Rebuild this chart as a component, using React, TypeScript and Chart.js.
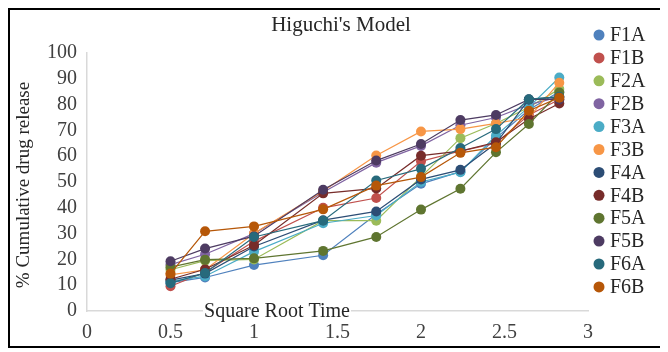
import React, { useEffect, useRef } from "react";
import { Chart, registerables } from "chart.js";

Chart.register(...registerables);

const sqrtTime = [0.5, 0.707, 1, 1.414, 1.732, 2, 2.236, 2.449, 2.646, 2.828];

const seriesNames = ["F1A", "F1B", "F2A", "F2B", "F3A", "F3B", "F4A", "F4B", "F5A", "F5B", "F6A", "F6B"];
const seriesColors = [
  "#4F81BD", "#C0504D", "#9BBB59", "#8064A2", "#4BACC6", "#F79646",
  "#2C4D75", "#772C2A", "#5F7530", "#4D3B62", "#276A7C", "#B65708",
];

const F1A = [11, 13, 17.8, 21.6, 37.5, 49.3, 54, 67, 78, 85];
const F1B = [9.6, 15, 27, 40, 43.8, 58, 62, 65, 76, 82];
const F2A = [16, 19.5, 20, 35, 35, 52, 67, 72.7, 79, 86];
const F2B = [18, 22, 30, 46, 57.5, 64, 72, 75, 80, 83];
const F3A = [11.5, 13.5, 23, 34, 37, 50, 53.8, 68, 79, 90.5];
const F3B = [14, 16, 30, 46.5, 60.3, 69.6, 70.5, 72.7, 75, 88.5];
const F4A = [12, 14.5, 25, 35.2, 38.6, 51, 54.7, 65, 82, 83];
const F4B = [12.3, 16.2, 25.5, 45.6, 47.5, 60.2, 62, 65.4, 74.4, 80.4];
const F5A = [17, 19.9, 20.4, 23.3, 28.7, 39.3, 47.4, 61.5, 72.5, 84.7];
const F5B = [19.3, 24.2, 29, 47, 58.3, 64.7, 74, 76, 82, 82];
const F6A = [10.8, 14.7, 28.7, 35, 50.6, 55.1, 63.2, 70.5, 82.1, 83];
const F6B = [14.5, 30.9, 32.8, 39.4, 48.6, 51.9, 61.3, 63.5, 77.6, 82.7];

const seriesValues = [F1A, F1B, F2A, F2B, F3A, F3B, F4A, F4B, F5A, F5B, F6A, F6B];

const chartTitle = "Higuchi's Model";
const xTitle = "Square Root Time";
const yTitle = "% Cumulative drug release";

const FONT = "'Liberation Serif', 'Times New Roman', serif";

const overlay = {
  id: "overlay",
  afterDraw(chart: any) {
    const ctx = chart.ctx;
    const area = chart.chartArea;
    ctx.save();
    // title
    ctx.fillStyle = "#262626";
    ctx.font = `21px ${FONT}`;
    ctx.textAlign = "center";
    ctx.textBaseline = "middle";
    ctx.fillText(chartTitle, 331, 15);

    // x title over axis line
    ctx.font = `20px ${FONT}`;
    const w = ctx.measureText(xTitle).width;
    ctx.fillStyle = "#ffffff";
    ctx.fillRect(267 - w / 2 - 1, area.bottom - 4, w + 2, 8);
    ctx.fillStyle = "#262626";
    ctx.fillText(xTitle, 267, area.bottom + 1);

    // y title
    ctx.save();
    ctx.translate(14, 175);
    ctx.rotate(-Math.PI / 2);
    ctx.font = `19px ${FONT}`;
    ctx.fillText(yTitle, 0, 0);
    ctx.restore();

    // legend
    ctx.textAlign = "left";
    ctx.font = `20px ${FONT}`;
    seriesNames.forEach((name, i) => {
      const y = 25 + i * 22.9;
      ctx.beginPath();
      ctx.arc(589, y, 5.5, 0, Math.PI * 2);
      ctx.fillStyle = seriesColors[i];
      ctx.fill();
      ctx.fillStyle = "#262626";
      ctx.fillText(name, 600, y + 1);
    });
    ctx.restore();
  },
};

export default function App() {
  const ref = useRef<HTMLCanvasElement>(null);
  useEffect(() => {
    if (!ref.current) return;
    const chart = new Chart(ref.current, {
      type: "scatter",
      data: {
        datasets: seriesNames.map((name, i) => ({
          label: name,
          data: sqrtTime.map((x, j) => ({ x, y: seriesValues[i][j] })),
          showLine: true,
          borderColor: seriesColors[i],
          backgroundColor: seriesColors[i],
          borderWidth: 1.2,
          pointRadius: 5,
          pointBorderWidth: 0,
          order: seriesNames.length - i,
        })),
      },
      options: {
        animation: false,
        responsive: false,
        maintainAspectRatio: false,
        layout: { padding: { top: 43, right: 72, left: 0, bottom: 0 } },
        plugins: {
          legend: { display: false },
          title: { display: false },
          tooltip: { enabled: false },
        },
        scales: {
          x: {
            type: "linear",
            min: 0,
            max: 3,
            afterFit: (s: any) => { s.height = 35; },
            grid: { display: false, drawTicks: false },
            border: { display: true, color: "#d9d9d9", width: 1.5 },
            ticks: {
              stepSize: 0.5,
              autoSkip: false,
              maxRotation: 0,
              padding: 10,
              color: "#404040",
              font: { family: FONT, size: 20 },
              callback: (v: any) => String(Math.round(Number(v) * 10) / 10),
            },
          },
          y: {
            min: 0,
            max: 100,
            afterFit: (s: any) => { s.width = 77; },
            grid: { display: false, drawTicks: false },
            border: { display: true, color: "#d9d9d9", width: 1.5 },
            ticks: {
              stepSize: 10,
              autoSkip: false,
              padding: 10,
              color: "#404040",
              font: { family: FONT, size: 20 },
            },
          },
        },
      },
      plugins: [overlay],
    });
    return () => chart.destroy();
  }, []);
  return (
    <div
      style={{
        width: 654,
        height: 340,
        border: "2px solid #000",
        boxSizing: "border-box",
        background: "#fff",
      }}
    >
      <canvas ref={ref} width={650} height={336} style={{ display: "block" }} />
    </div>
  );
}
